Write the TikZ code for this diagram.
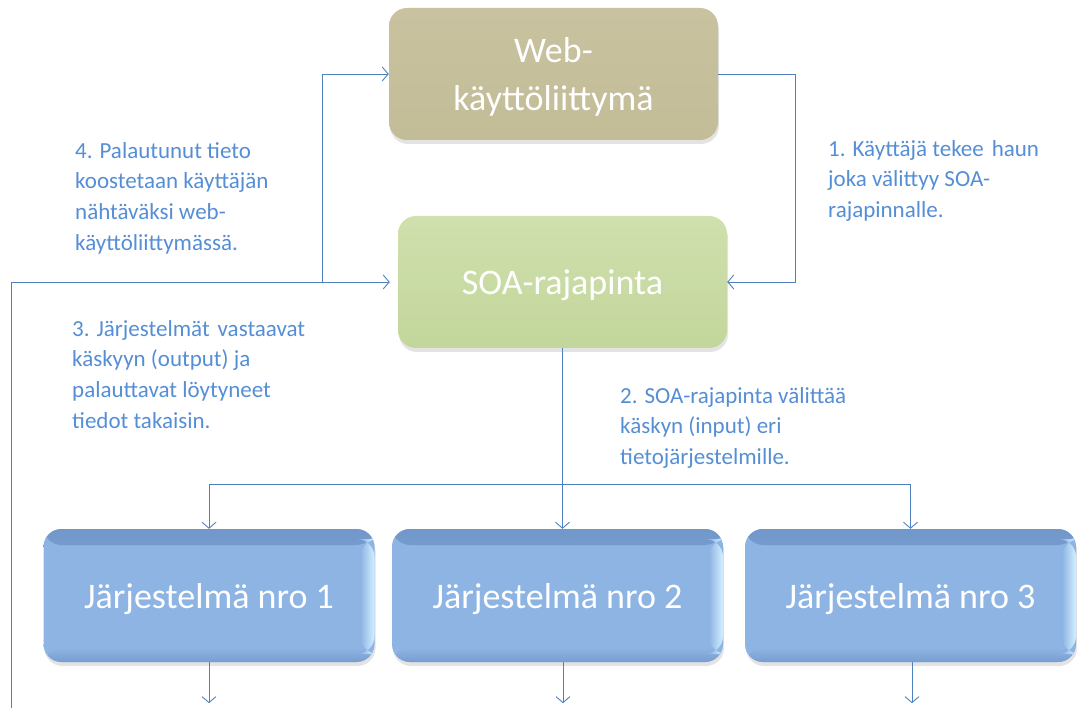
\documentclass[tikz,border=0pt]{standalone}
\usepackage{fontspec}
\setmainfont{Carlito}
\usetikzlibrary{arrows.meta,shadows}
\definecolor{linec}{HTML}{4F81BD}
\definecolor{textc}{HTML}{558ED5}
\definecolor{webc}{HTML}{C2BC97}
\definecolor{webl}{HTML}{C8C2A0}
\definecolor{soac}{HTML}{C3D69B}
\definecolor{soal}{HTML}{D0E0AE}
\definecolor{sysc}{HTML}{8EB4E3}
\definecolor{sysd}{HTML}{7297CB}
\definecolor{sysl}{HTML}{D4F0FF}
\newcommand{\dn}[2]{\raisebox{-#1}[\height][\depth]{#2}}
\begin{document}
\begin{tikzpicture}[x=1pt,y=-1pt,
  box/.style={rounded corners=18pt, minimum width=329pt, minimum height=132pt,
    text=white, align=center, font=\fontsize{36}{48}\selectfont, inner sep=0pt,
    drop shadow={shadow xshift=1pt,shadow yshift=-4pt,opacity=0.22}},
  webbox/.style={box, top color=webl, bottom color=webc},
  soabox/.style={box, top color=soal, bottom color=soac},
  sysbox/.style={box, fill=sysc, minimum width=331pt, minimum height=133pt,
    font=\fontsize{36}{40}\selectfont,
    path picture={
      \shade[top color=sysd, bottom color=sysc]
        (path picture bounding box.north west) rectangle ([yshift=-16pt]path picture bounding box.north east);
      \shade[top color=sysc, bottom color=sysd!80!sysc]
        ([yshift=14pt]path picture bounding box.south west) rectangle (path picture bounding box.south east);
      \shade[left color=sysc, right color=sysl]
        ([xshift=-14pt,yshift=-10pt]path picture bounding box.north east) rectangle ([yshift=8pt]path picture bounding box.south east);
    }},
  conn/.style={draw=linec, line width=0.9pt, -{Straight Barb[length=6pt,width=14pt]}},
  lbl/.style={text=textc, align=left, anchor=north west, inner sep=0pt,
    font=\fontsize{23}{30.8}\selectfont}]
\useasboundingbox (0,0) rectangle (1077,708);

\node[webbox] (web) at (553.5,74) {\dn{3pt}{Web-}\\\dn{3pt}{käyttöliittymä}};
\node[soabox] (soa) at (562.5,282) {\dn{3pt}{SOA-rajapinta}};
\node[sysbox] (b1) at (209,595.5) {\dn{4pt}{Järjestelmä nro 1}};
\node[sysbox] (b2) at (557.5,595.5) {\dn{4pt}{Järjestelmä nro 2}};
\node[sysbox] (b3) at (910.5,595.5) {\dn{4pt}{Järjestelmä nro 3}};

\coordinate (lb) at (11,708);
\coordinate (jn) at (322,282);
\coordinate (bus) at (562.5,484);

% 1: web -> soa
\draw[conn] (web.east) -- ++(77,0) |- (soa.east);
% 2: soa -> systems
\draw[conn] (soa.south) -- (soa.south |- b2.north);
\draw[conn] (bus) -| (b1.north);
\draw[conn] (bus) -| (b3.north);
% 3: systems -> soa
\draw[conn] (lb) |- ([xshift=-8pt]soa.west);
% 4: soa -> web
\draw[conn] (jn) |- (web.west);
% outputs
\draw[conn] (b1.south) -- ++(0,41);
\draw[conn] ([xshift=5.5pt]b2.south) -- ++(0,41);
\draw[conn] ([xshift=1.5pt]b3.south) -- ++(0,41);

\node[lbl] (t4) at (75,142) {4. Palautunut tieto\\koostetaan käyttäjän\\nähtäväksi web-\\käyttöliittymässä.};
\node[lbl] (t1) at (828,140) {1. Käyttäjä tekee\hspace{0.12em} haun\\joka välittyy SOA-\\rajapinnalle.};
\node[lbl] (t3) at (72,320) {3. Järjestelmät\hspace{0.12em} vastaavat\\käskyyn (output) ja\\palauttavat löytyneet\\tiedot takaisin.};
\node[lbl] (t2) at (620,387) {2. SOA-rajapinta välittää\\käskyn (input) eri\\tietojärjestelmille.};
\end{tikzpicture}
\end{document}
